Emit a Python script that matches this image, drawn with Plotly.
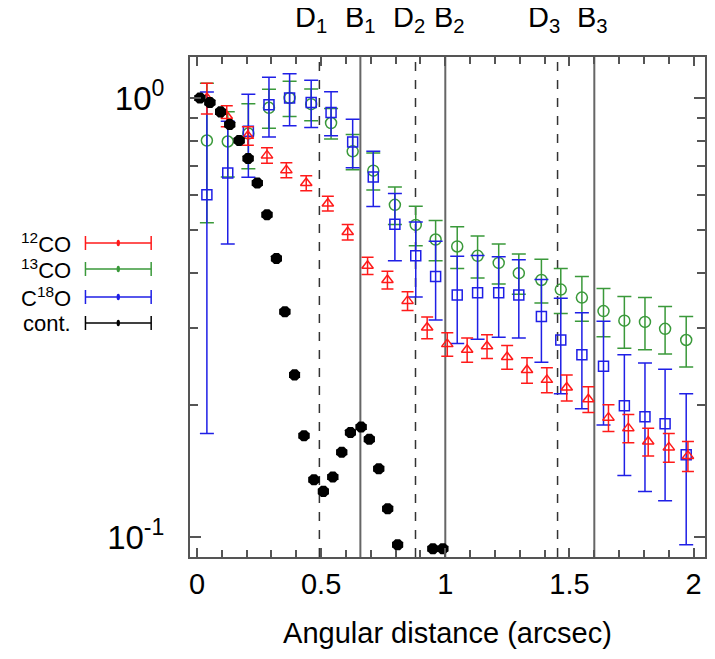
import plotly.graph_objects as go

# 12CO (red triangles)
co12_x = [0.04, 0.12, 0.205, 0.282, 0.36, 0.44, 0.527, 0.607, 0.687, 0.767, 0.848, 0.927, 1.008,
          1.088, 1.168, 1.249, 1.329, 1.409, 1.489, 1.576, 1.657, 1.737, 1.817, 1.90, 1.977]
co12_y = [1.0, 0.91, 0.82, 0.74, 0.685, 0.64, 0.575, 0.495, 0.415, 0.385, 0.345, 0.30, 0.275,
          0.267, 0.272, 0.257, 0.240, 0.228, 0.219, 0.206, 0.187, 0.177, 0.165, 0.160, 0.153]
co12_err = [0.08, 0.05, 0.04, 0.03, 0.027, 0.025, 0.022, 0.02, 0.019, 0.018, 0.017, 0.017, 0.017,
            0.017, 0.017, 0.016, 0.016, 0.015, 0.015, 0.014, 0.013, 0.013, 0.012, 0.012, 0.012]

# 13CO (green circles) and C18O (blue squares) share a grid
iso_x = [0.04, 0.124, 0.207, 0.29, 0.373, 0.46, 0.54, 0.627, 0.71, 0.797, 0.881, 0.961,
         1.048, 1.13, 1.215, 1.296, 1.387, 1.465, 1.55, 1.637, 1.721, 1.804, 1.885, 1.97]
co13_y = [0.80, 0.796, 0.83, 0.95, 1.0, 0.968, 0.877, 0.756, 0.683, 0.571, 0.514, 0.476,
          0.459, 0.437, 0.421, 0.399, 0.385, 0.366, 0.351, 0.327, 0.311, 0.309, 0.298, 0.281]
co13_err = [0.28, 0.135, 0.14, 0.097, 0.092, 0.08, 0.07, 0.07, 0.066, 0.056, 0.053, 0.05,
            0.05, 0.048, 0.044, 0.042, 0.044, 0.043, 0.041, 0.041, 0.042, 0.042, 0.037, 0.037]
c18o_y = [0.602, 0.675, 0.84, 0.965, 1.0, 0.977, 0.927, 0.794, 0.661, 0.516, 0.437, 0.392,
          0.356, 0.36, 0.36, 0.356, 0.318, 0.281, 0.26, 0.245, 0.199, 0.188, 0.181, 0.154]
c18o_err = [0.43, 0.21, 0.18, 0.15, 0.135, 0.12, 0.107, 0.1, 0.095, 0.09, 0.085, 0.08,
            0.08, 0.078, 0.075, 0.072, 0.068, 0.069, 0.064, 0.065, 0.061, 0.061, 0.06, 0.058]

# continuum (black)
cont_x = [0.012, 0.052, 0.095, 0.132, 0.17, 0.206, 0.243, 0.282, 0.32, 0.354, 0.393, 0.431,
          0.471, 0.509, 0.547, 0.583, 0.618, 0.661, 0.694, 0.732, 0.768, 0.808, 0.95, 0.99]
cont_y = [1.0, 0.977, 0.93, 0.87, 0.80, 0.728, 0.64, 0.542, 0.431, 0.326, 0.234, 0.170,
          0.135, 0.127, 0.137, 0.156, 0.173, 0.178, 0.167, 0.143, 0.116, 0.096, 0.094, 0.094]

# ring / gap positions
gap_names = ["D<sub>1</sub>", "D<sub>2</sub>", "D<sub>3</sub>"]
gap_x = [0.493, 0.88, 1.452]
ring_names = ["B<sub>1</sub>", "B<sub>2</sub>", "B<sub>3</sub>"]
ring_x = [0.658, 1.0, 1.60]

RED = "#ff1a1a"
GREEN = "#3a993a"
BLUE = "#1f1fe6"
FONT = "Liberation Sans, Arial, sans-serif"

fig = go.Figure()

fig.add_trace(go.Scatter(
    x=iso_x, y=co13_y, mode="markers", name="13CO",
    marker=dict(symbol="circle-open", size=11, color=GREEN, line=dict(width=1.5)),
    error_y=dict(type="data", array=co13_err, color=GREEN, thickness=1.5, width=7),
))
fig.add_trace(go.Scatter(
    x=iso_x, y=c18o_y, mode="markers", name="C18O",
    marker=dict(symbol="square-open", size=10, color=BLUE, line=dict(width=1.5)),
    error_y=dict(type="data", array=c18o_err, color=BLUE, thickness=1.5, width=7),
))
fig.add_trace(go.Scatter(
    x=co12_x, y=co12_y, mode="markers", name="12CO",
    marker=dict(symbol="triangle-up-open", size=10, color=RED, line=dict(width=1.5)),
    error_y=dict(type="data", array=co12_err, color=RED, thickness=1.5, width=6),
))
fig.add_trace(go.Scatter(
    x=cont_x, y=cont_y, mode="markers", name="cont.",
    marker=dict(symbol="octagon", size=12, color="black"),
    error_x=dict(type="constant", value=0.018, color="black", thickness=2, width=3),
))

shapes = []
for gx in gap_x:
    shapes.append(dict(type="line", xref="x", yref="paper", x0=gx, x1=gx, y0=0, y1=1,
                       line=dict(color="#333333", width=1.5, dash="dash"), layer="below"))
for rx in ring_x:
    shapes.append(dict(type="line", xref="x", yref="paper", x0=rx, x1=rx, y0=0, y1=1,
                       line=dict(color="#666666", width=2), layer="below"))

annotations = []
for name, xv, sh in zip(gap_names + ring_names, gap_x + ring_x, [-8, -7, -14, 0, 4, -2]):
    annotations.append(dict(x=xv, y=1.0, xref="x", yref="paper", text=name, showarrow=False,
                            yanchor="bottom", yshift=18, xshift=sh,
                            font=dict(size=29, color="black", family=FONT)))

# hand-drawn legend on the left
legend_items = [("<sup>12</sup>CO", RED), ("<sup>13</sup>CO", GREEN),
                ("C<sup>18</sup>O", BLUE), ("cont.", "black")]
legend_y = [0.628, 0.576, 0.52, 0.468]
for (label, col), ly in zip(legend_items, legend_y):
    annotations.append(dict(x=-0.228, y=ly, xref="paper", yref="paper", text=label,
                            showarrow=False, xanchor="right", yanchor="middle",
                            font=dict(size=22, color="black", family=FONT)))
    shapes.append(dict(type="line", xref="paper", yref="paper", x0=-0.203, x1=-0.0754,
                       y0=ly, y1=ly, line=dict(color=col, width=1.5)))
    for cx in (-0.203, -0.0754):
        shapes.append(dict(type="line", xref="paper", yref="paper", x0=cx, x1=cx,
                           y0=ly - 0.014, y1=ly + 0.014, line=dict(color=col, width=1.5)))
    shapes.append(dict(type="circle", xref="paper", yref="paper", x0=-0.1425, x1=-0.1360,
                       y0=ly - 0.0065, y1=ly + 0.0065, fillcolor=col, line=dict(color=col, width=0)))

# page body adds an 8px offset at top/left, so the figure is 8px smaller
fig.update_layout(
    width=707, height=651,
    margin=dict(l=182, r=8, t=49, b=102),
    plot_bgcolor="white", paper_bgcolor="white",
    showlegend=False,
    font=dict(family=FONT, color="black"),
    shapes=shapes,
    annotations=annotations,
    xaxis=dict(
        range=[-0.028, 2.0457], tickvals=[0, 0.5, 1, 1.5, 2], ticktext=["0", "0.5", "1", "1.5", "2"],
        ticks="inside", ticklen=9, tickwidth=1.5, tickcolor="#555",
        minor=dict(dtick=0.1, tick0=0, ticks="inside", ticklen=7, tickwidth=1.5, tickcolor="#555"),
        showline=True, linecolor="#555", linewidth=2, mirror="ticks",
        showgrid=False, zeroline=False, ticklabelstandoff=0,
        tickfont=dict(size=29), title=dict(text="Angular distance (arcsec)", font=dict(size=29), standoff=24),
    ),
    yaxis=dict(
        type="log", range=[-1.0456, 0.0934],
        tickvals=[0.1, 1], ticktext=["10<sup>-1</sup>", "10<sup>0</sup>"],
        ticks="inside", ticklen=11, tickwidth=1.5, tickcolor="#555",
        minor=dict(tickvals=[0.2, 0.3, 0.4, 0.5, 0.6, 0.7, 0.8, 0.9], ticks="inside",
                   ticklen=8, tickwidth=1.5, tickcolor="#555"),
        showline=True, linecolor="#555", linewidth=2, mirror="ticks",
        showgrid=False, zeroline=False, ticklabelstandoff=17,
        tickfont=dict(size=33),
    ),
)

fig.write_html("out.html")
